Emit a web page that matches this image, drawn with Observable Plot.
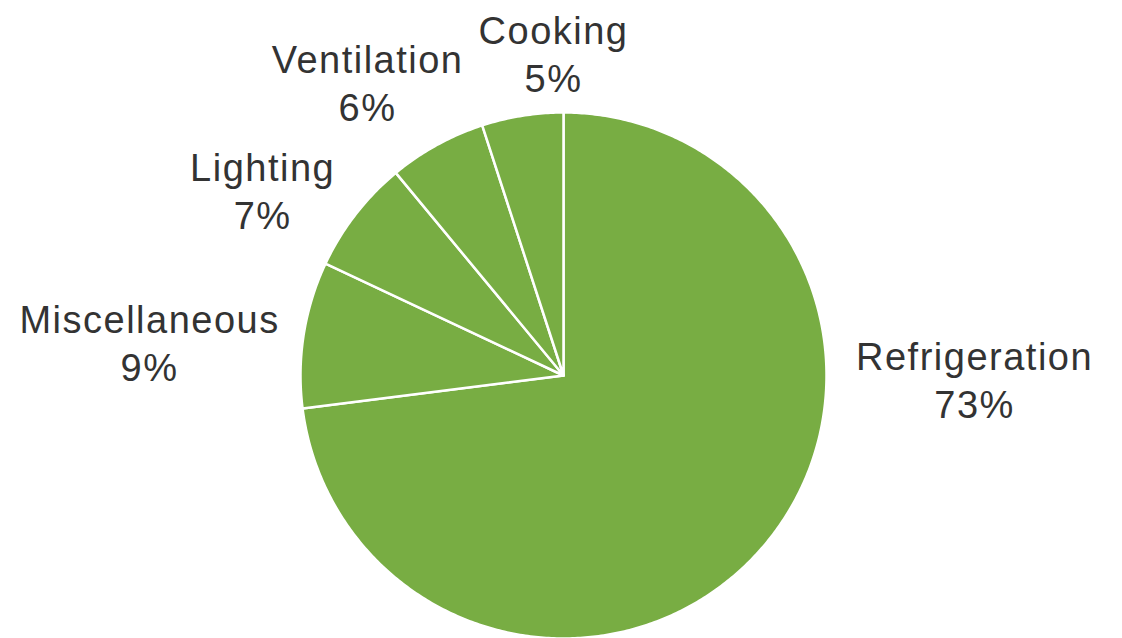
<!DOCTYPE html>
<html>
<head>
<meta charset="utf-8">
<script src="https://cdn.jsdelivr.net/npm/d3@7"></script>
<script src="https://cdn.jsdelivr.net/npm/@observablehq/plot@0.6"></script>
<style>
  html, body { margin: 0; padding: 0; background: #fff; }
  #chart { width: 1122px; height: 638px; overflow: hidden; }
  #chart svg text { font-family: "Liberation Sans", Arial, sans-serif; letter-spacing: 1.5px; }
</style>
</head>
<body>
<div id="chart"></div>
<script>
// Data
const categories = ["Refrigeration", "Miscellaneous", "Lighting", "Ventilation", "Cooking"];
const shares = [73, 9, 7, 6, 5];

// Layout (label anchor positions, in pie-radius units relative to the centre)
const labelAnchors = [[1.563, -0.011], [-1.574, 0.129], [-1.144, 0.707], [-0.745, 1.118], [-0.038, 1.228]];

const total = d3.sum(shares);
const slicePoints = [];
let start = 0;
categories.forEach((c, i) => {
  const a0 = (start / total) * 2 * Math.PI;
  const a1 = ((start + shares[i]) / total) * 2 * Math.PI;
  start += shares[i];
  slicePoints.push({cat: c, u: 0, v: 0});
  const steps = Math.max(4, Math.ceil((a1 - a0) / 0.01));
  for (let k = 0; k <= steps; k++) {
    const a = a0 + (a1 - a0) * k / steps;
    slicePoints.push({cat: c, u: Math.sin(a), v: Math.cos(a)});
  }
  slicePoints.push({cat: c, u: 0, v: 0});
});

const labels = categories.map((c, i) => ({
  text: `${c}\n${shares[i]}%`,
  u: labelAnchors[i][0],
  v: labelAnchors[i][1]
}));

const R = 263, cx = 563, cy = 375, W = 1122, H = 638;
const chart = Plot.plot({
  width: W,
  height: H,
  margin: 0,
  x: {domain: [-cx / R, (W - cx) / R], axis: null},
  y: {domain: [-(H - cy) / R, cy / R], axis: null},
  style: {background: "#fff", fontFamily: "'Liberation Sans', Arial, sans-serif"},
  marks: [
    Plot.line(slicePoints, {x: "u", y: "v", z: "cat", fill: "#78ad43", stroke: "#ffffff", strokeWidth: 2.5, strokeLinejoin: "round", curve: "linear"}),
    Plot.text(labels, {x: "u", y: "v", text: "text", fontSize: 38, lineHeight: 1.27, fill: "#333333", textAnchor: "middle", lineAnchor: "middle", fontFamily: "Liberation Sans"})
  ]
});
document.getElementById("chart").appendChild(chart);
</script>
</body>
</html>
